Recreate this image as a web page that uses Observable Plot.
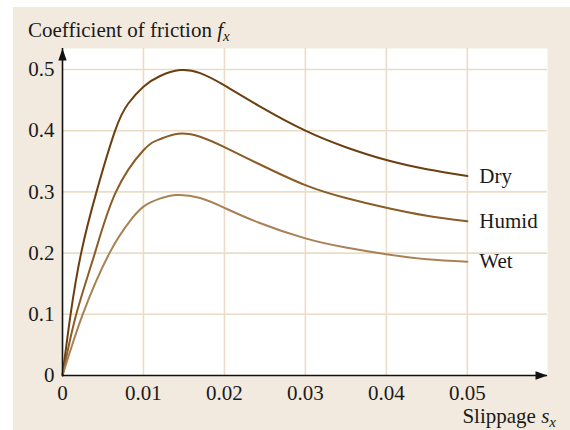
<!DOCTYPE html>
<html>
<head>
<meta charset="utf-8">
<script src="https://cdn.jsdelivr.net/npm/d3@7"></script>
<script src="https://cdn.jsdelivr.net/npm/@observablehq/plot@0.6"></script>
<style>
  html, body { margin: 0; padding: 0; background: #ffffff; }
  #wrap { position: relative; width: 570px; height: 430px; overflow: hidden; }
  #chart { position: absolute; left: 13px; top: 7px; }
  .lbl { position: absolute; font-family: "Liberation Serif", serif; font-size: 21px; line-height: 21px; color: #1a1a1a; white-space: nowrap; }
  .lbl i { font-style: italic; }
  .lbl sub { font-size: 15px; line-height: 0; vertical-align: -4px; font-style: italic; }
</style>
</head>
<body>
<div id="wrap">
  <div id="chart"></div>
  <div class="lbl" style="left:28px; top:20px;">Coefficient of friction <i>f</i><sub>x</sub></div>
  <div class="lbl" style="right:14px; top:406px;">Slippage <i>s</i><sub>x</sub></div>
</div>
<script>
// ---- data (slippage s, friction coefficient f) ----
const drySlip   = [0, 0.0010, 0.0023, 0.0042, 0.0065, 0.0081, 0.010, 0.012, 0.0145, 0.017, 0.020, 0.0242, 0.030, 0.035, 0.040, 0.045, 0.050];
const dryFric   = [0, 0.100,  0.200,  0.300,  0.400,  0.444,  0.472, 0.489, 0.499,  0.494, 0.474, 0.441,  0.400, 0.373, 0.352, 0.337, 0.326];

const humidSlip = [0, 0.0017, 0.0040, 0.0066, 0.010, 0.012, 0.0143, 0.017, 0.020, 0.0242, 0.030, 0.035, 0.040, 0.045, 0.050];
const humidFric = [0, 0.100,  0.200,  0.300,  0.368, 0.386, 0.395,  0.390, 0.373, 0.346,  0.311, 0.290, 0.274, 0.261, 0.252];

const wetSlip   = [0, 0.0025, 0.0058, 0.0083, 0.010, 0.012, 0.0142, 0.017, 0.020, 0.0242, 0.030, 0.035, 0.040, 0.045, 0.050];
const wetFric   = [0, 0.100,  0.200,  0.252,  0.276, 0.289, 0.295,  0.290, 0.274, 0.250,  0.224, 0.209, 0.198, 0.190, 0.186];

const seriesNames = ["Dry", "Humid", "Wet"];
const seriesColors = ["#6b3f10", "#8a5c27", "#a88256"];

const xTicks = [0, 0.01, 0.02, 0.03, 0.04, 0.05];
const yTicks = [0, 0.1, 0.2, 0.3, 0.4, 0.5];
const xMax = 0.0599;
const yMax = 0.5343;

// ---- build table ----
const rows = [];
[[drySlip, dryFric], [humidSlip, humidFric], [wetSlip, wetFric]].forEach(([xs, ys], i) => {
  xs.forEach((s, j) => rows.push({series: seriesNames[i], s, f: ys[j]}));
});
const lastRows = seriesNames.map(n => rows.filter(r => r.series === n).at(-1));

// arrow-head symbol pointing up, tip at origin
const arrowHead = {
  draw(ctx) {
    ctx.moveTo(0, 0);
    ctx.lineTo(-4.2, 12);
    ctx.lineTo(4.2, 12);
    ctx.closePath();
  }
};

const grid = "#ecdcc7";
const chart = Plot.plot({
  width: 557,
  height: 423,
  marginLeft: 49,
  marginRight: 23,
  marginTop: 41,
  marginBottom: 55,
  style: {fontFamily: "Liberation Serif, serif", fontSize: "21px", background: "#f2eadf", color: "#1a1a1a", overflow: "visible"},
  x: {domain: [0, xMax]},
  y: {domain: [0, yMax]},
  color: {domain: seriesNames, range: seriesColors},
  marks: [
    Plot.frame({fill: "#ffffff", stroke: null}),
    Plot.gridX(xTicks.slice(1), {stroke: grid, strokeOpacity: 1, strokeWidth: 1.6}),
    Plot.gridY(yTicks.slice(1), {stroke: grid, strokeOpacity: 1, strokeWidth: 1.6}),
    Plot.axisX(xTicks, {tickSize: 0, tickPadding: 10, label: null, tickFormat: d => d === 0 ? "0" : d3.format(".2f")(d), fontSize: 21}),
    Plot.axisY(yTicks, {tickSize: 0, tickPadding: 8, label: null, tickFormat: d => d === 0 ? "0" : d3.format(".1f")(d), fontSize: 21}),
    Plot.line(rows, {x: "s", y: "f", z: "series", stroke: "series", strokeWidth: 2, curve: "natural"}),
    Plot.ruleX([0], {y1: 0, y2: yMax, stroke: "#111", strokeWidth: 1.6}),
    Plot.ruleY([0], {x1: 0, x2: xMax, stroke: "#111", strokeWidth: 1.6}),
    Plot.dot([{x: 0, y: yMax}], {x: "x", y: "y", symbol: arrowHead, fill: "#111", stroke: null, r: 5}),
    Plot.dot([{x: xMax, y: 0}], {x: "x", y: "y", symbol: arrowHead, fill: "#111", stroke: null, r: 5, rotate: 90}),
    Plot.text(lastRows, {x: "s", y: "f", text: "series", dx: 12, textAnchor: "start", fill: "#1a1a1a", fontSize: 21})
  ]
});
document.getElementById("chart").appendChild(chart);
</script>
</body>
</html>
